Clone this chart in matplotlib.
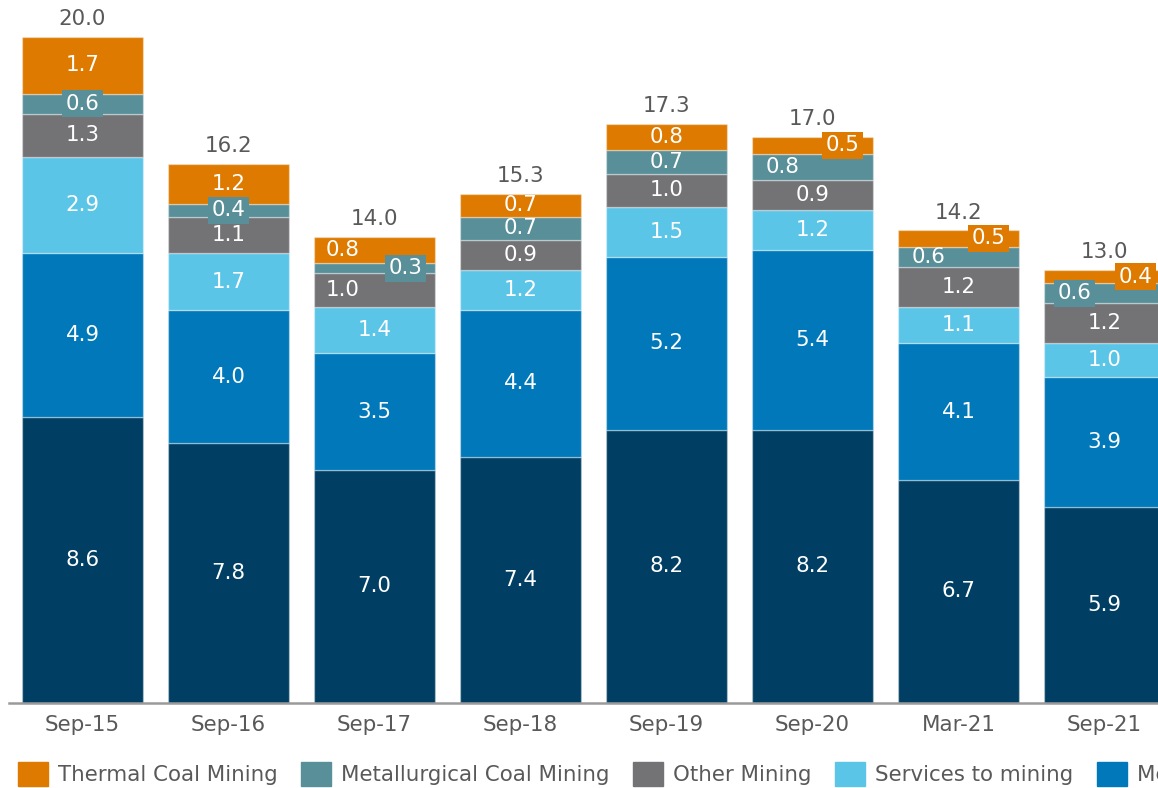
import matplotlib
matplotlib.use("Agg")
import matplotlib.pyplot as plt
from matplotlib.patches import Rectangle

# ---------------- data ----------------
categories = ["Sep-15", "Sep-16", "Sep-17", "Sep-18", "Sep-19", "Sep-20", "Mar-21", "Sep-21"]
series_names = ["Iron Ore Mining", "Metal Ore Mining", "Services to mining",
                "Other Mining", "Metallurgical Coal Mining", "Thermal Coal Mining"]
iron_ore = [8.6, 7.8, 7.0, 7.4, 8.2, 8.2, 6.7, 5.9]
metal_ore = [4.9, 4.0, 3.5, 4.4, 5.2, 5.4, 4.1, 3.9]
services = [2.9, 1.7, 1.4, 1.2, 1.5, 1.2, 1.1, 1.0]
other_mining = [1.3, 1.1, 1.0, 0.9, 1.0, 0.9, 1.2, 1.2]
met_coal = [0.6, 0.4, 0.3, 0.7, 0.7, 0.8, 0.6, 0.6]
thermal_coal = [1.7, 1.2, 0.8, 0.7, 0.8, 0.5, 0.5, 0.4]
totals = [20.0, 16.2, 14.0, 15.3, 17.3, 17.0, 14.2, 13.0]

# ---------------- style ----------------
colors = ["#003E63", "#0078B9", "#5BC5E8", "#737376", "#588F98", "#DE7A00"]
legend_order = [5, 4, 3, 2, 1, 0]
FS = 15.4
TXT = "#595959"

# label placement tweaks (bar index, series index) -> horizontal offset in slot units
label_dx = {(2, 5): -0.22, (2, 4): 0.21, (2, 3): -0.22,
            (5, 5): 0.205, (5, 4): -0.205,
            (6, 5): 0.205, (6, 4): -0.205,
            (7, 5): 0.21, (7, 4): -0.205}
boxed = {(0, 4), (1, 4), (2, 4), (5, 5), (6, 5), (7, 5), (7, 4)}

W, H = 1158, 788
fig = plt.figure(figsize=(W / 100, H / 100), dpi=100)
plt.rcParams['font.family'] = ['DejaVu Sans']

px_per_unit = 33.3
ymax = 21.0
ax_left, ax_right = 9, 1158
ax_bottom = 703
ax_h = ymax * px_per_unit
ax = fig.add_axes([ax_left / W, (H - ax_bottom) / H, (ax_right - ax_left) / W, ax_h / H])

slot = 146.0
center0 = 82.5
x0 = -(center0 - ax_left) / slot
x1 = (ax_right - center0) / slot
ax.set_xlim(x0, x1)
ax.set_ylim(0, ymax)

data = [iron_ore, metal_ore, services, other_mining, met_coal, thermal_coal]
xs = list(range(len(categories)))
bottoms = [0.0] * len(categories)
bar_w = 121 / slot
for si, vals in enumerate(data):
    ax.bar(xs, vals, width=bar_w, bottom=bottoms, color=colors[si],
           edgecolor=(1, 1, 1, 0.35), linewidth=1.0, label=series_names[si], zorder=2)
    for i, v in enumerate(vals):
        yc = bottoms[i] + v / 2
        dx = label_dx.get((i, si), 0.0)
        kw = {}
        if (i, si) in boxed:
            kw['bbox'] = dict(boxstyle='square,pad=0.16', fc=colors[si], ec='none')
        ax.text(i + dx, yc, f"{v:.1f}", ha='center', va='center', color='white',
                fontsize=FS, zorder=5, **kw)
    bottoms = [b + v for b, v in zip(bottoms, vals)]

for i, t in enumerate(totals):
    ax.annotate(f"{t:.1f}", xy=(i, bottoms[i]), xytext=(0, 5.5), textcoords='offset points',
                ha='center', va='bottom', color=TXT, fontsize=FS, zorder=5)

for s in ['top', 'right', 'left']:
    ax.spines[s].set_visible(False)
ax.spines['bottom'].set_color('#9A9A9A')
ax.spines['bottom'].set_linewidth(1.8)
ax.set_yticks([])
ax.set_xticks(xs)
ax.set_xticklabels(categories, color=TXT, fontsize=FS)
ax.tick_params(axis='x', length=0, pad=8.5)

# legend (manual, clipped by figure edge like the reference)
renderer = fig.canvas.get_renderer()
x = 18
sq_w, sq_h = 30, 24
y_top = 762
for si in legend_order:
    fig.add_artist(Rectangle((x / W, (H - y_top - sq_h) / H), sq_w / W, sq_h / H,
                             transform=fig.transFigure, color=colors[si]))
    t = fig.text((x + 40) / W, (H - 775) / H, series_names[si], color=TXT,
                 fontsize=FS, ha='left', va='center')
    bb = t.get_window_extent(renderer)
    x = bb.x1 + 23.5

fig.savefig("out.png", dpi=100)
